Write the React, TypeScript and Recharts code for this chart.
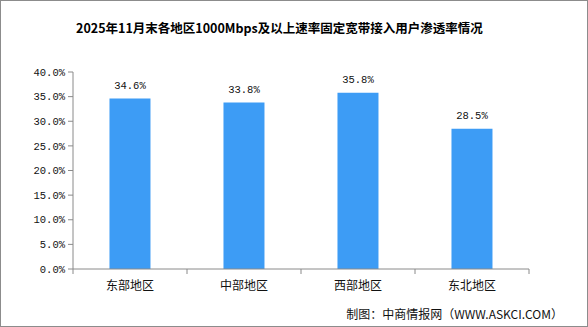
import React from "react";
import { BarChart, Bar, XAxis, YAxis, LabelList } from "recharts";

const categories = ["东部地区", "中部地区", "西部地区", "东北地区"];
const values = [34.6, 33.8, 35.8, 28.5];
const yTicks = [0, 5, 10, 15, 20, 25, 30, 35, 40];
const titleText = "2025年11月末各地区1000Mbps及以上速率固定宽带接入用户渗透率情况";
const sourceText = "制图：中商情报网（WWW.ASKCI.COM）";

const data = categories.map((name, i) => ({ name, value: values[i] }));

const AXIS = "#8a8a8a";
const BAR = "#3d9cf5";
const MONO = "'Liberation Mono', 'DejaVu Sans Mono', monospace";
const CJK = "'Noto Sans CJK SC', sans-serif";

const CatTick = (props: any) => {
  const { x, y, payload, index, visibleTicksCount } = props;
  const off = payload.offset || 0;
  const axisY = y - 8;
  return (
    <g>
      <line x1={x - off} x2={x - off} y1={axisY} y2={axisY + 5} stroke={AXIS} strokeWidth={1} />
      {index === visibleTicksCount - 1 && (
        <line x1={x + off} x2={x + off} y1={axisY} y2={axisY + 5} stroke={AXIS} strokeWidth={1} />
      )}
      <text x={x} y={axisY + 21} textAnchor="middle" fontFamily={CJK} fontSize={12} fill="#111">
        {payload.value}
      </text>
    </g>
  );
};

export default function App() {
  return (
    <div style={{ position: "absolute", left: 0, top: 0, width: 588, height: 327, background: "#fff" }}>
      <BarChart
        width={588}
        height={327}
        data={data}
        margin={{ top: 72, right: 59, left: 0, bottom: 28 }}
        barCategoryGap="32%"
      >
        <XAxis
          dataKey="name"
          axisLine={{ stroke: AXIS }}
          tickLine={false}
          tickSize={5}
          tickMargin={3}
          height={30}
          interval={0}
          tick={<CatTick />}
        />
        <YAxis
          width={73}
          domain={[0, 40]}
          ticks={yTicks}
          interval={0}
          axisLine={{ stroke: AXIS }}
          tickLine={{ stroke: AXIS }}
          tickSize={5}
          tickMargin={3}
          tickFormatter={(v: number) => v.toFixed(1) + "%"}
          tick={{ fontFamily: MONO, fontSize: 10.5, fill: "#111" }}
        />
        <Bar dataKey="value" fill={BAR} isAnimationActive={false}>
          <LabelList
            dataKey="value"
            position="top"
            offset={10}
            formatter={(v: number) => v.toFixed(1) + "%"}
            style={{ fontFamily: MONO, fontSize: 10.5, fill: "#111" }}
          />
        </Bar>
      </BarChart>
      <div
        style={{
          position: "absolute",
          left: 76,
          top: 19,
          fontFamily: CJK,
          fontWeight: 700,
          fontSize: 12.5,
          color: "#000",
          whiteSpace: "nowrap",
          lineHeight: "18px",
        }}
      >
        {titleText}
      </div>
      <div
        style={{
          position: "absolute",
          right: 25,
          top: 305,
          fontFamily: CJK,
          fontSize: 12,
          color: "#111",
          whiteSpace: "nowrap",
          lineHeight: "18px",
        }}
      >
        {sourceText}
      </div>
      <div
        style={{
          position: "absolute",
          left: 0,
          top: 0,
          width: 588,
          height: 327,
          border: "1px solid #8c8c8c",
          boxSizing: "border-box",
          pointerEvents: "none",
        }}
      />
    </div>
  );
}
